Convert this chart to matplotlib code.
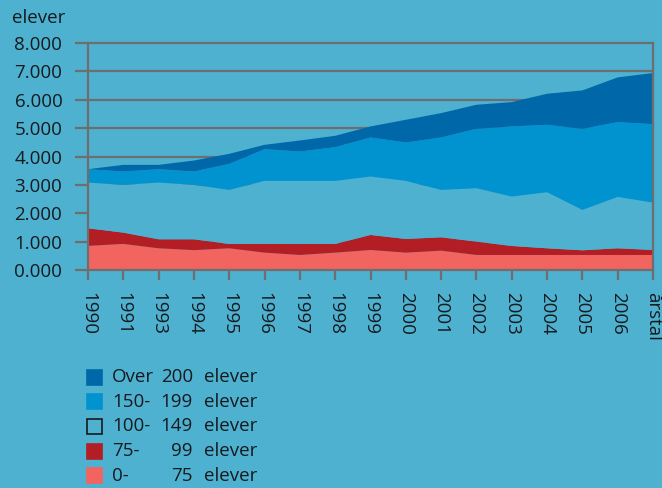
import numpy as np
import matplotlib.pyplot as plt
from matplotlib.patches import Rectangle

plt.rcParams['font.family'] = ['Open Sans', 'DejaVu Sans']

# x categories (last one is the axis label)
years = ['1990', '1991', '1993', '1994', '1995', '1996', '1997', '1998', '1999',
         '2000', '2001', '2002', '2003', '2004', '2005', '2006', 'årstal']

# elever per skolestørrelse
s_0_75 = [850, 920, 765, 700, 765, 612, 530, 612, 706, 612, 682, 530, 530, 530, 530, 530, 530]
s_75_99 = [620, 397, 317, 382, 152, 305, 387, 305, 529, 482, 471, 470, 317, 235, 164, 235, 176]
s_100_149 = [1612, 1683, 2000, 1918, 1906, 2224, 2224, 2224, 2059, 2047, 1670, 1882, 1741, 1976, 1423, 1811, 1670]
s_150_199 = [471, 470, 471, 470, 918, 1117, 1035, 1188, 1376, 1353, 1847, 2094, 2471, 2376, 2859, 2635, 2765]
s_over_200 = [0, 235, 152, 388, 353, 153, 388, 400, 389, 800, 859, 847, 858, 1094, 1353, 1577, 1800]

yticks = [0, 1000, 2000, 3000, 4000, 5000, 6000, 7000, 8000]
ytick_labels = ['0.000', '1.000', '2.000', '3.000', '4.000', '5.000', '6.000', '7.000', '8.000']

bg = '#4eb1d0'
grey = '#6e6e6e'
txt = '#151a1e'
cols = ['#f2645f', '#b21e24', bg, '#0093d0', '#0068a8']
fs = 13.5

fig = plt.figure(figsize=(6.62, 4.88), dpi=100, facecolor=bg)
ax = fig.add_axes([88/662, 1-270/488, (653-88)/662, (270-43)/488])
ax.set_facecolor(bg)

x = np.arange(len(years))
ax.stackplot(x, s_0_75, s_75_99, s_100_149, s_150_199, s_over_200, colors=cols, zorder=2)

for v in yticks[1:-1]:
    ax.axhline(v, color=grey, lw=1.6, zorder=1)

ax.set_xlim(0, len(years)-1)
ax.set_ylim(0, 8000)
ax.set_yticks(yticks)
ax.set_yticklabels(ytick_labels)
ax.set_xticks(x)
ax.set_xticklabels(years, rotation=-90, va='top', ha='center')
ax.tick_params(axis='y', direction='out', length=9.5, width=1.6, color=grey, pad=9,
               labelsize=fs, labelcolor=txt)
ax.tick_params(axis='x', direction='out', length=7, width=1.6, color=grey, pad=9,
               labelsize=fs, labelcolor=txt)
for sp in ax.spines.values():
    sp.set_color(grey)
    sp.set_linewidth(1.6)
    sp.set_zorder(3)

fig.text(12/662, 1-18/488, 'elever', fontsize=fs, color=txt, va='center', ha='left')

# legend
leg_first = ['Over', '150-', '100-', '75-', '0-']
leg_num = ['200', '199', '149', '99', '75']
leg_cols = ['#0068a8', '#0093d0', bg, '#b21e24', '#f2645f']
for i in range(5):
    yc = 377 + i*24.7
    edge = txt if i == 2 else leg_cols[i]
    fig.patches.append(Rectangle((87/662, 1-(yc+7.5)/488), 15/662, 15/488,
                                 transform=fig.transFigure, facecolor=leg_cols[i],
                                 edgecolor=edge, lw=1.2))
    fig.text(112/662, 1-yc/488, leg_first[i], fontsize=fs, color=txt, va='center', ha='left')
    fig.text(193/662, 1-yc/488, leg_num[i], fontsize=fs, color=txt, va='center', ha='right')
    fig.text(204/662, 1-yc/488, 'elever', fontsize=fs, color=txt, va='center', ha='left')

fig.savefig('out.png', dpi=100, facecolor=bg)
